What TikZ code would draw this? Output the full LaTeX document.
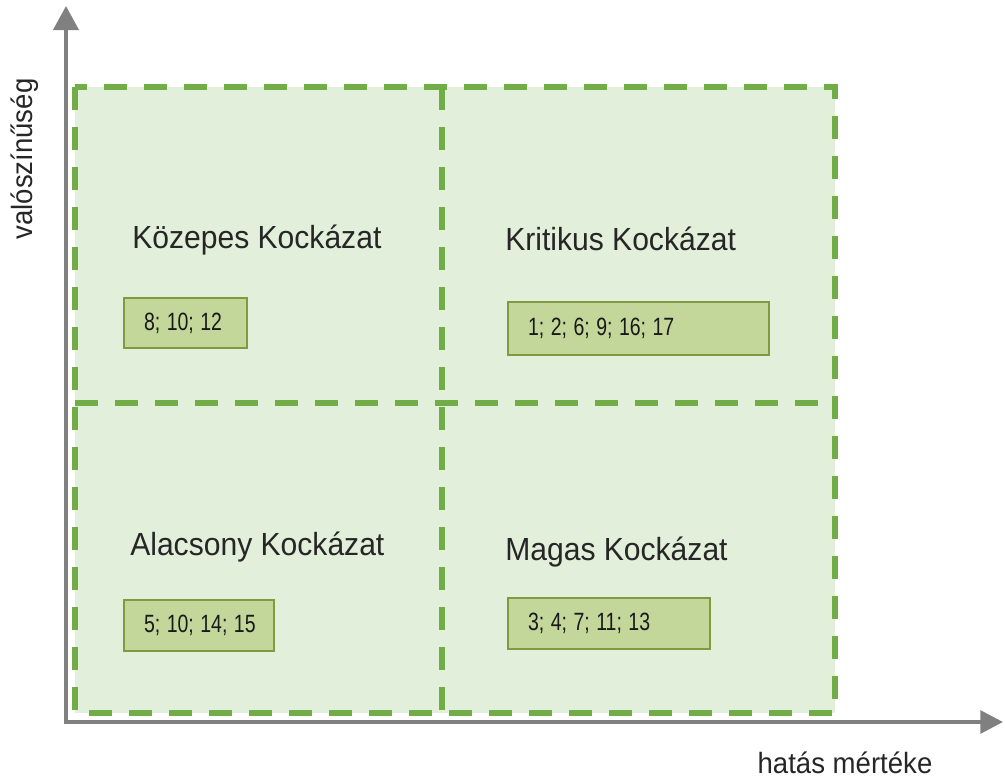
\documentclass[tikz,border=0pt]{standalone}
\usepackage{fontspec}
\setmainfont{Liberation Sans}[FakeStretch=0.94]
\newfontfamily\numfont{Liberation Sans}
\usetikzlibrary{arrows.meta}
\definecolor{axisgray}{HTML}{808080}
\definecolor{dashgreen}{HTML}{70AD47}
\definecolor{quadfill}{HTML}{E2EFDA}
\definecolor{boxfill}{HTML}{C4D79B}
\definecolor{boxline}{HTML}{7F9B3F}
\newcommand\nums[1]{\scalebox{0.78}[1]{#1}}
\tikzset{
  axis/.style={draw=axisgray, line width=3pt, line join=miter,
    {Triangle[width=18.75pt,length=18pt]}-{Triangle[width=17pt,length=17pt]}},
  quad/.style={draw=dashgreen, line width=3.8pt, dash pattern=on 17.25pt off 12.75pt},
  title/.style={anchor=base west, inner sep=0pt, font=\fontsize{24pt}{28pt}\selectfont, text=black!85},
  numbox/.style={anchor=north west, draw=boxline, fill=boxfill, line width=1.5pt,
    inner xsep=15pt, inner ysep=0pt, align=left,
    font=\numfont\fontsize{18.75pt}{22pt}\selectfont, text=black!90},
  axlabel/.style={inner sep=0pt, font=\fontsize{22pt}{26pt}\selectfont, text=black!85}
}
\begin{document}
\begin{tikzpicture}[x=0.75pt,y=-0.75pt]
\useasboundingbox (0,0) rectangle (1005,782);
% quadrant background
\fill[quadfill] (75,87) rectangle (835,713);
% axes
\coordinate (ytip) at (66,6);
\coordinate (xtip) at (1003,722);
\draw[axis] (ytip) |- (xtip);
% quadrant borders
\coordinate (q1) at (75,87);
\coordinate (q2) at (835,713);
\coordinate (mt) at (442,87);
\coordinate (mb) at (442,713);
\coordinate (ml) at (75,403);
\coordinate (mr) at (835,403);
\draw[quad] (q1) rectangle (q2);
\draw[quad] (mt) -- (mb);
\draw[quad] (ml) -- (mr);
% titles
\node[title] (tl) at (132,248) {Közepes Kockázat};
\node[title] (tr) at (505,250) {Kritikus Kockázat};
\node[title] (bl) at (130,555) {Alacsony Kockázat};
\node[title] (br) at (505,560) {Magas Kockázat};
% number boxes
\node[numbox, text width=62.25pt, minimum height=37.5pt] (b1) at (123,297) {\nums{8; 10; 12}};
\node[numbox, text width=165.75pt, minimum height=39.75pt] (b2) at (507,301) {\nums{1; 2; 6; 9; 16; 17}};
\node[numbox, text width=82.5pt, minimum height=38.25pt] (b3) at (123,599) {\nums{5; 10; 14; 15}};
\node[numbox, text width=121.5pt, minimum height=38.25pt] (b4) at (507,597) {\nums{3; 4; 7; 11; 13}};
% axis labels
\node[axlabel, anchor=base] (xl) at (845,773) {hatás mértéke};
\node[axlabel, rotate=90] (yl) at (25,159) {valószínűség};
\end{tikzpicture}
\end{document}
